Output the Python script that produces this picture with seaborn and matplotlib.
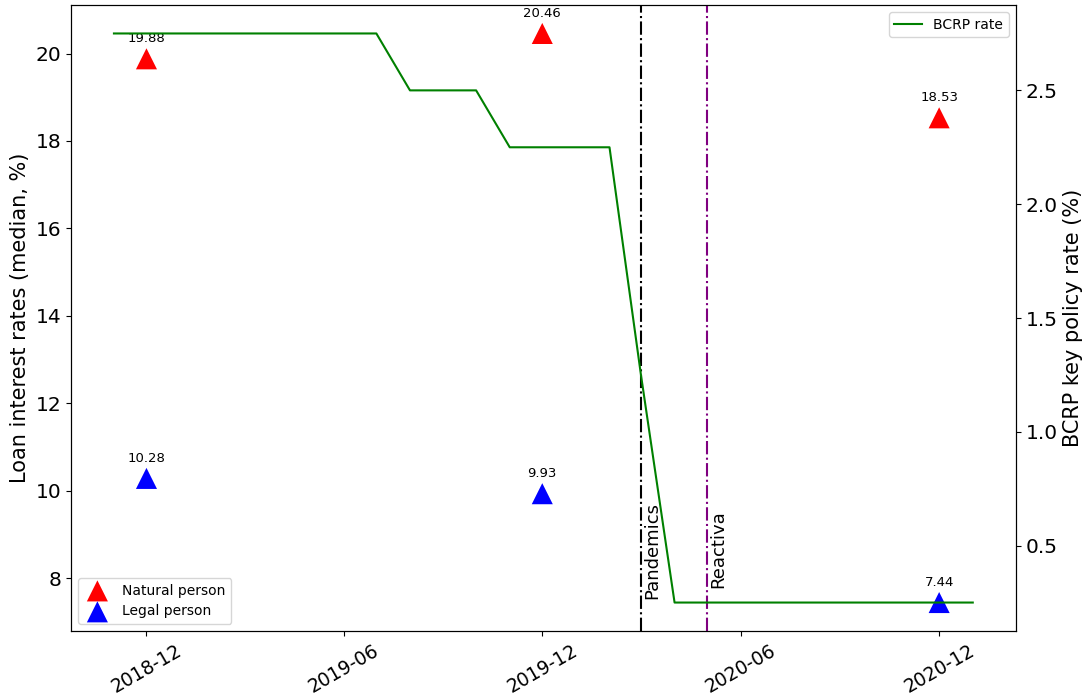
import pandas as pd
import numpy as np
import matplotlib
matplotlib.use('Agg')
import matplotlib.pyplot as plt
import matplotlib.dates as mdates
import seaborn as sns

# %% Data
obs_dates = pd.to_datetime(['2018-12-01', '2019-12-01', '2020-12-01'])
natural_person = [19.88, 20.46, 18.53]
legal_person = [10.28, 9.93, 7.44]

rate_dates = pd.to_datetime([
    '2018-11-01', '2018-12-01', '2019-01-01', '2019-02-01', '2019-03-01',
    '2019-04-01', '2019-05-01', '2019-06-01', '2019-07-01', '2019-08-01',
    '2019-09-01', '2019-10-01', '2019-11-01', '2019-12-01', '2020-01-01',
    '2020-02-01', '2020-03-01', '2020-04-01', '2020-05-01', '2020-06-01',
    '2020-07-01', '2020-08-01', '2020-09-01', '2020-10-01', '2020-11-01',
    '2020-12-01', '2021-01-01'])
bcrp_rate = [2.75, 2.75, 2.75, 2.75, 2.75, 2.75, 2.75, 2.75, 2.75,
             2.50, 2.50, 2.50,
             2.25, 2.25, 2.25, 2.25,
             1.25,
             0.25, 0.25, 0.25, 0.25, 0.25, 0.25, 0.25, 0.25, 0.25, 0.25]

events = ['Pandemics', 'Reactiva']
event_dates = pd.to_datetime(['2020-03-01', '2020-05-01'])
event_colors = ['black', 'purple']
event_text_y = [7.52, 7.77]

# %% Figure
fig, ax = plt.subplots(figsize=(10.84, 6.96), dpi=100)
fig.subplots_adjust(left=0.0655, right=0.937, top=0.9928, bottom=0.0934)

sns.scatterplot(x=obs_dates, y=natural_person, marker='^', s=230, color='red',
                edgecolor='none', label='Natural person', ax=ax)
sns.scatterplot(x=obs_dates, y=legal_person, marker='^', s=230, color='blue',
                edgecolor='none', label='Legal person', ax=ax)

# etiquetas sobre los puntos
for d, v in zip(obs_dates, natural_person):
    ax.annotate(f'{v:.2f}', (d, v), xytext=(0, 10), textcoords='offset points',
                ha='center', va='bottom', fontsize=9.5)
for d, v in zip(obs_dates, legal_person):
    ax.annotate(f'{v:.2f}', (d, v), xytext=(0, 10), textcoords='offset points',
                ha='center', va='bottom', fontsize=9.5)

# lineas verticales de eventos
for name, d, c, ty in zip(events, event_dates, event_colors, event_text_y):
    ax.axvline(d, color=c, linestyle='-.', linewidth=1.5)
    ax.text(d + pd.Timedelta(days=2), ty, name, rotation=90, ha='left',
            va='bottom', fontsize=13)

ax.set_ylabel('Loan interest rates (median, %)', fontsize=15)
ax.set_xlabel('')
ax.tick_params(axis='y', labelsize=14.5)
ax.tick_params(axis='x', labelsize=13.5)
ax.legend(loc='lower left', fontsize=10)

# %% Tasa BCRP en eje secundario
ax2 = ax.twinx()
sns.lineplot(x=rate_dates, y=bcrp_rate, color='green', linewidth=1.5,
             label='BCRP rate', ax=ax2)
ax2.set_ylabel('BCRP key policy rate (%)', fontsize=15)
ax2.tick_params(axis='y', labelsize=14.5)
ax2.legend(loc='upper right', fontsize=10)

ax.xaxis.set_major_locator(mdates.MonthLocator(bymonth=[6, 12]))
ax.xaxis.set_major_formatter(mdates.DateFormatter('%Y-%m'))
plt.setp(ax.get_xticklabels(), rotation=30)

plt.savefig('out.png', dpi=100)
